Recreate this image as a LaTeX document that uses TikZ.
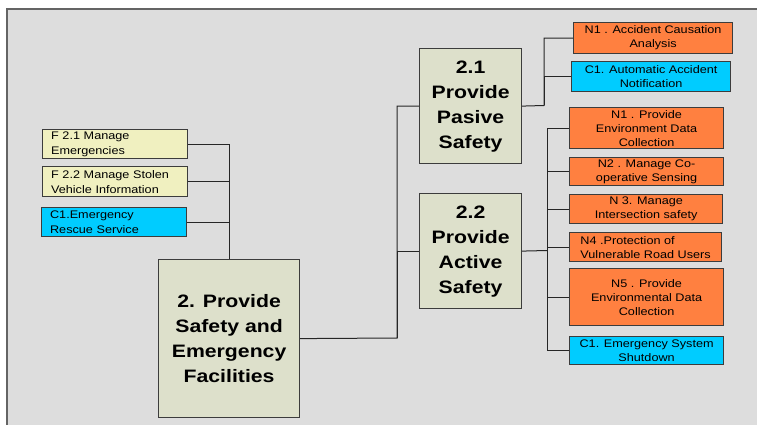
\documentclass[tikz,border=0pt]{standalone}
\usepackage{fontspec}
\setmainfont{Liberation Sans}
\newfontfamily\smallf[FakeStretch=1.15]{Liberation Sans}
\newfontfamily\bigf[FakeStretch=1.18]{Liberation Sans}
\definecolor{bggray}{RGB}{221,221,221}
\definecolor{framegray}{RGB}{100,100,100}
\definecolor{boxline}{RGB}{60,60,60}
\definecolor{mainfill}{RGB}{221,224,203}
\definecolor{paleyellow}{RGB}{240,240,192}
\definecolor{orangefill}{RGB}{255,128,64}
\definecolor{cyanfill}{RGB}{0,204,255}
\begin{document}
\begin{tikzpicture}[x=1pt,y=-1pt,
  box/.style={draw=boxline, line width=1.2pt, inner sep=0pt, anchor=north west},
  bigbox/.style={box, fill=mainfill, align=center, font=\bigf\bfseries\fontsize{18}{25}\selectfont},
  leftbox/.style={box, fill=paleyellow, align=left, inner xsep=8.5pt, text width=128pt, font=\smallf\fontsize{11}{15}\selectfont},
  obox/.style={box, fill=orangefill, align=center, font=\smallf\fontsize{11}{14}\selectfont},
  cbox/.style={box, fill=cyanfill, align=center, font=\smallf\fontsize{11}{14}\selectfont},
  conn/.style={draw=black!85, line width=1pt}]
\useasboundingbox (0,0) rectangle (757,425);
\fill[white] (0,0) rectangle (757,425);
\fill[bggray] (7,9) rectangle (757,425);
\draw[framegray, line width=1.5pt] (7,425) -- (7,9) -- (757,9);

% main and second-level boxes
\node[bigbox, minimum width=141pt, minimum height=158pt] (main) at (158,259) {2. Provide\\Safety and\\Emergency\\Facilities};
\node[bigbox, minimum width=102pt, minimum height=115pt] (p21) at (419,48) {2.1\\Provide\\Pasive\\Safety};
\node[bigbox, minimum width=102pt, minimum height=115pt] (p22) at (419,193) {2.2\\Provide\\Active\\Safety};

% left boxes
\node[leftbox, minimum height=29pt] (f21) at (42,129) {F 2.1 Manage\\Emergencies};
\node[leftbox, minimum height=30pt] (f22) at (42,166) {F 2.2 Manage Stolen\\Vehicle Information};
\node[leftbox, fill=cyanfill, minimum height=29pt] (c1e) at (41,207) {C1.Emergency\\Rescue Service};

% right boxes (2.1)
\node[obox, minimum width=159pt, minimum height=31pt] (n1a) at (573,22) {N1 . Accident Causation\\Analysis};
\node[cbox, minimum width=159pt, minimum height=30pt] (c1a) at (571,61) {C1. Automatic Accident\\Notification};

% right boxes (2.2)
\node[obox, minimum width=154pt, minimum height=41pt] (n1p) at (569,107) {N1 . Provide\\Environment Data\\Collection};
\node[obox, minimum width=154pt, minimum height=28pt] (n2) at (569,157) {N2 . Manage Co-\\operative Sensing};
\node[obox, minimum width=153pt, minimum height=29pt] (n3) at (569,194) {N 3. Manage\\Intersection safety};
\node[obox, align=left, minimum width=152pt, minimum height=29pt] (n4) at (569,232) {N4 .Protection of\\Vulnerable Road Users};
\node[obox, minimum width=154pt, minimum height=57pt] (n5) at (569,268) {N5 . Provide\\Environmental Data\\Collection};
\node[cbox, minimum width=154pt, minimum height=28pt] (c1s) at (569,336) {C1. Emergency System\\Shutdown};

% junctions
\coordinate (j1) at (397,338);
\coordinate (j2) at (544,105.5);
\coordinate (j3) at (547,250.5);

% connectors
\draw[conn] (f21.east) -| (main.north);
\draw[conn] (f22.east) -| (main.north);
\draw[conn] (c1e.east) -| (main.north);

\draw[conn] (main.east) -- (j1) |- (p21.west);
\draw[conn] (j1) |- (p22.west);

\draw[conn] (p21.east) -- (j2) |- (n1a.west);
\draw[conn] (j2) |- (c1a.west);

\draw[conn] (p22.east) -- (j3);
\draw[conn] (j3) |- (n1p.west);
\draw[conn] (j3) |- (n2.west);
\draw[conn] (j3) |- (n3.west);
\draw[conn] (j3) |- (n4.west);
\draw[conn] (j3) |- (n5.west);
\draw[conn] (j3) |- (c1s.west);
\end{tikzpicture}
\end{document}
